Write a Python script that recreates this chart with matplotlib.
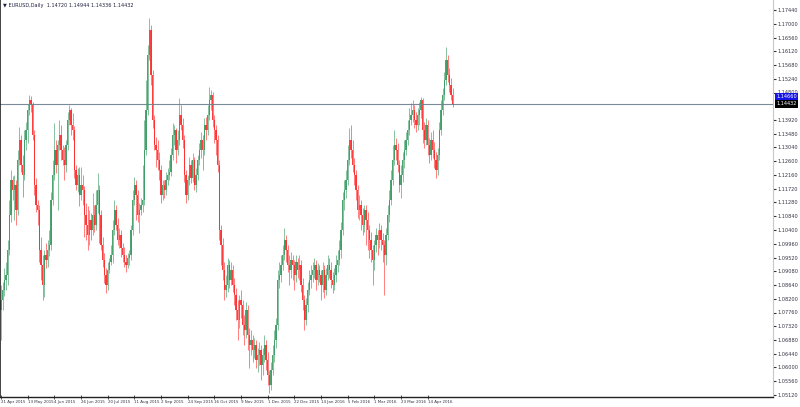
import matplotlib
matplotlib.use("Agg")
import matplotlib.pyplot as plt
import numpy as np

chart_title = "EURUSD,Daily  1.14720 1.14944 1.14336 1.14432"

opens = [
1.0784, 1.0816, 1.0848, 1.0880, 1.0896, 1.0976,
1.1088, 1.1200, 1.1168, 1.1184, 1.1104, 1.1264,
1.1328, 1.1248, 1.1216, 1.1328, 1.1360, 1.1424,
1.1456, 1.14432, 1.1344, 1.1184, 1.1120, 1.1104,
1.0976, 1.0928, 1.0864, 1.0960, 1.0944, 1.0976,
1.0992, 1.1136, 1.1216, 1.1296, 1.1248, 1.1312,
1.1344, 1.1296, 1.1264, 1.1248, 1.1312, 1.1392,
1.1424, 1.1376, 1.1360, 1.1232, 1.1184, 1.1216,
1.1152, 1.1184, 1.1168, 1.1088, 1.1056, 1.1024,
1.1072, 1.1040, 1.1088, 1.1056, 1.1120, 1.1168,
1.1088, 1.0992, 1.0944, 1.0896, 1.0864, 1.0912,
1.09376, 1.0960, 1.1040, 1.1104, 1.1056, 1.1008,
1.1024, 1.09824, 1.0960, 1.09376, 1.0928, 1.09504,
1.0960, 1.1040, 1.1136, 1.1184, 1.1152, 1.1088,
1.1104, 1.1120, 1.1136, 1.1296, 1.1424, 1.1600,
1.1680, 1.1536, 1.1392, 1.1312, 1.1296, 1.1264,
1.1232, 1.1152, 1.1184, 1.1168, 1.1200, 1.1216,
1.12256, 1.1280, 1.1344, 1.1360, 1.1296, 1.1328,
1.1408, 1.1376, 1.1328, 1.1216, 1.1152, 1.1200,
1.1248, 1.12064, 1.1264, 1.1184, 1.1216, 1.1264,
1.1296, 1.1328, 1.1296, 1.1376, 1.1360, 1.1408,
1.1456, 1.1472, 1.1392, 1.1360, 1.1328, 1.1248,
1.1040, 1.0992, 1.0912, 1.0848, 1.0864, 1.0928,
1.0880, 1.0912, 1.0864, 1.0832, 1.0784, 1.0752,
1.0816, 1.0800, 1.0736, 1.0720, 1.0784, 1.0704,
1.0672, 1.0688, 1.0656, 1.0672, 1.0624, 1.0640,
1.0656, 1.0608, 1.0640, 1.0672, 1.0624, 1.0576,
1.0544, 1.0592, 1.0640, 1.0688, 1.0736, 1.0880,
1.0896, 1.0928, 1.0960, 1.1008, 1.0976, 1.0928,
1.0912, 1.0944, 1.0928, 1.0896, 1.09376, 1.0912,
1.0928, 1.0864, 1.0816, 1.0752, 1.0800, 1.0848,
1.0880, 1.0896, 1.0912, 1.0928, 1.0880, 1.0912,
1.0896, 1.0864, 1.0912, 1.0848, 1.0896, 1.0928,
1.0912, 1.0880, 1.0864, 1.0896, 1.0928, 1.0944,
1.0976, 1.1040, 1.1136, 1.1168, 1.1200, 1.1264,
1.1328, 1.1296, 1.1248, 1.1216, 1.1168, 1.1104,
1.1120, 1.1088, 1.1056, 1.1104, 1.1072, 1.1040,
1.1008, 1.0976, 1.0944, 1.0992, 1.1024, 1.1008,
1.1040, 1.1008, 1.0992, 1.0960, 1.1024, 1.1088,
1.1136, 1.1200, 1.1264, 1.1312, 1.1296, 1.1248,
1.1184, 1.1216, 1.1264, 1.1296, 1.1328, 1.1360,
1.1392, 1.1408, 1.1424, 1.1392, 1.1376, 1.1408,
1.1424, 1.1456, 1.1360, 1.1328, 1.1376, 1.1312,
1.1280, 1.1328, 1.1296, 1.1264, 1.1232, 1.1280,
1.1360, 1.1424, 1.1472, 1.1520, 1.1584, 1.1536, 1.1504, 1.1472,
]

highs = [
1.0864, 1.08736, 1.09184, 1.09376, 1.1008, 1.1136,
1.1232, 1.12128, 1.1216, 1.1200, 1.1296, 1.13696,
1.1344, 1.1280, 1.1360, 1.13856, 1.14432, 1.1472,
1.14688, 1.14496, 1.1360, 1.12064, 1.1136, 1.1120,
1.10176, 1.0960, 1.0976, 1.09984, 1.1008, 1.1040,
1.11616, 1.1264, 1.13824, 1.1328, 1.1328, 1.1392,
1.1376, 1.1312, 1.13056, 1.1328, 1.14176, 1.1440,
1.14304, 1.14144, 1.13728, 1.1248, 1.12384, 1.12416,
1.12416, 1.1216, 1.11808, 1.11264, 1.11168, 1.1104,
1.10944, 1.11584, 1.1120, 1.1168, 1.12224, 1.1184,
1.1104, 1.10176, 1.09664, 1.09184, 1.09376, 1.09504,
1.0992, 1.1072, 1.1136, 1.1120, 1.10784, 1.10464,
1.1040, 1.09984, 1.09856, 1.0960, 1.09664, 1.0976,
1.1056, 1.1168, 1.12096, 1.1200, 1.1168, 1.11264,
1.11424, 1.1248, 1.1392, 1.1520, 1.1632, 1.17184,
1.1696, 1.1552, 1.1408, 1.13376, 1.1328, 1.12896,
1.1248, 1.1200, 1.1200, 1.12256, 1.12384, 1.1264,
1.13024, 1.13824, 1.1376, 1.13664, 1.1360, 1.14624,
1.1440, 1.13984, 1.1344, 1.1232, 1.1216, 1.12736,
1.1264, 1.12864, 1.12736, 1.12384, 1.1280, 1.13184,
1.13536, 1.1344, 1.13984, 1.14016, 1.1440, 1.14976,
1.1488, 1.14816, 1.1408, 1.1376, 1.1344, 1.1264,
1.1056, 1.10144, 1.09376, 1.0896, 1.09504, 1.0944,
1.09376, 1.0928, 1.08864, 1.08544, 1.0816, 1.0832,
1.0848, 1.0816, 1.0768, 1.08096, 1.0800, 1.07264,
1.0720, 1.0704, 1.06944, 1.0688, 1.06624, 1.06816,
1.0672, 1.06624, 1.0704, 1.0688, 1.06496, 1.0592,
1.06176, 1.0672, 1.0720, 1.07584, 1.0912, 1.09376,
1.0960, 1.0992, 1.10464, 1.1024, 1.0992, 1.0960,
1.09696, 1.0960, 1.0944, 1.0960, 1.09504, 1.0960,
1.0944, 1.08864, 1.0832, 1.08224, 1.08736, 1.0912,
1.0928, 1.09376, 1.09504, 1.0944, 1.09344, 1.0928,
1.0912, 1.09376, 1.0928, 1.09184, 1.0960, 1.09504,
1.09376, 1.09056, 1.09184, 1.0960, 1.0976, 1.1008,
1.10656, 1.11616, 1.1200, 1.1232, 1.1312, 1.13664,
1.1376, 1.1328, 1.12704, 1.1232, 1.1184, 1.1152,
1.1136, 1.11104, 1.1120, 1.1120, 1.10976, 1.1056,
1.10336, 1.0992, 1.1008, 1.10464, 1.1040, 1.10624,
1.1056, 1.10304, 1.1008, 1.10464, 1.1120, 1.1168,
1.1232, 1.1312, 1.1360, 1.13344, 1.13184, 1.1264,
1.1248, 1.12896, 1.1328, 1.13536, 1.1392, 1.14304,
1.14464, 1.1456, 1.1440, 1.14176, 1.14304, 1.14496,
1.14656, 1.14624, 1.13856, 1.13984, 1.1392, 1.13344,
1.13536, 1.1360, 1.13216, 1.12896, 1.13024, 1.13856,
1.1456, 1.14944, 1.15456, 1.16256, 1.1600, 1.15584, 1.15264, 1.14944,
]

lows = [
1.0688, 1.0784, 1.08288, 1.0848, 1.0864, 1.0960,
1.10656, 1.1136, 1.1072, 1.1056, 1.1088, 1.1248,
1.12256, 1.11456, 1.1200, 1.1296, 1.13184, 1.1408,
1.14176, 1.1328, 1.1152, 1.10976, 1.1056, 1.09376,
1.0880, 1.0816, 1.08256, 1.09184, 1.09216, 1.09568,
1.0976, 1.1120, 1.1200, 1.12224, 1.1104, 1.1296,
1.1264, 1.1248, 1.1200, 1.12256, 1.1296, 1.1376,
1.1344, 1.1328, 1.12064, 1.1168, 1.11616, 1.11168,
1.1136, 1.1120, 1.10176, 1.1008, 1.0976, 1.0992,
1.1008, 1.1024, 1.10336, 1.1040, 1.10944, 1.09984,
1.0976, 1.09216, 1.08704, 1.08384, 1.0848, 1.09024,
1.0928, 1.09344, 1.1024, 1.1040, 1.0992, 1.09824,
1.09536, 1.09376, 1.09216, 1.09056, 1.09184, 1.0928,
1.0944, 1.1024, 1.1120, 1.1072, 1.10656, 1.10304,
1.1088, 1.10976, 1.1120, 1.1280, 1.1408, 1.1584,
1.1504, 1.13664, 1.1296, 1.12416, 1.1232, 1.1200,
1.11264, 1.1136, 1.11424, 1.1152, 1.1184, 1.1200,
1.12128, 1.1264, 1.1312, 1.12544, 1.1280, 1.1312,
1.1360, 1.13024, 1.11936, 1.11264, 1.1136, 1.1184,
1.11904, 1.11936, 1.1168, 1.11616, 1.1200, 1.1248,
1.12704, 1.1232, 1.1280, 1.1328, 1.1344, 1.1392,
1.1424, 1.13696, 1.13184, 1.1280, 1.12256, 1.1008,
1.0928, 1.0880, 1.0816, 1.08256, 1.08416, 1.08544,
1.0864, 1.08416, 1.0800, 1.0752, 1.0688, 1.07264,
1.07584, 1.0704, 1.0672, 1.06944, 1.0656, 1.05984,
1.0640, 1.06176, 1.06304, 1.05984, 1.05856, 1.0608,
1.0560, 1.0576, 1.06176, 1.0592, 1.0544, 1.05184,
1.0528, 1.0576, 1.06176, 1.06624, 1.0720, 1.08544,
1.08736, 1.0912, 1.0944, 1.09376, 1.09056, 1.0864,
1.08864, 1.0880, 1.0848, 1.08736, 1.08864, 1.0880,
1.08416, 1.0784, 1.0720, 1.0736, 1.07776, 1.0832,
1.08544, 1.08736, 1.08864, 1.0848, 1.0864, 1.08736,
1.0816, 1.08416, 1.08224, 1.0832, 1.0880, 1.08864,
1.08544, 1.08384, 1.0848, 1.08736, 1.09056, 1.0928,
1.09504, 1.1024, 1.1104, 1.11424, 1.1184, 1.1248,
1.12704, 1.12256, 1.1184, 1.1136, 1.10784, 1.1072,
1.1040, 1.1024, 1.10336, 1.0992, 1.0976, 1.09504,
1.09376, 1.0864, 1.0912, 1.09696, 1.0960, 1.09824,
1.0976, 1.09376, 1.0832, 1.0928, 1.1008, 1.10656,
1.1120, 1.1184, 1.1248, 1.1264, 1.12256, 1.11616,
1.11424, 1.11936, 1.12384, 1.1280, 1.1312, 1.1344,
1.1376, 1.13856, 1.13664, 1.13536, 1.1360, 1.1376,
1.13984, 1.13184, 1.13024, 1.1312, 1.1280, 1.12544,
1.1264, 1.12704, 1.12384, 1.12064, 1.1216, 1.1264,
1.1344, 1.1408, 1.1456, 1.1504, 1.15136, 1.14816, 1.1456, 1.14336,
]

closes = [
1.0816, 1.0848, 1.0880, 1.0896, 1.0976, 1.1088,
1.1200, 1.1168, 1.1184, 1.1104, 1.1264, 1.1328,
1.1248, 1.1216, 1.1328, 1.1360, 1.1424, 1.1456,
1.14432, 1.1344, 1.1184, 1.1120, 1.1104, 1.0976,
1.0928, 1.0864, 1.0960, 1.0944, 1.0976, 1.0992,
1.1136, 1.1216, 1.1296, 1.1248, 1.1312, 1.1344,
1.1296, 1.1264, 1.1248, 1.1312, 1.1392, 1.1424,
1.1376, 1.1360, 1.1232, 1.1184, 1.1216, 1.1152,
1.1184, 1.1168, 1.1088, 1.1056, 1.1024, 1.1072,
1.1040, 1.1088, 1.1056, 1.1120, 1.1168, 1.1088,
1.0992, 1.0944, 1.0896, 1.0864, 1.0912, 1.09376,
1.0960, 1.1040, 1.1104, 1.1056, 1.1008, 1.1024,
1.09824, 1.0960, 1.09376, 1.0928, 1.09504, 1.0960,
1.1040, 1.1136, 1.1184, 1.1152, 1.1088, 1.1104,
1.1120, 1.1136, 1.1296, 1.1424, 1.1600, 1.1680,
1.1536, 1.1392, 1.1312, 1.1296, 1.1264, 1.1232,
1.1152, 1.1184, 1.1168, 1.1200, 1.1216, 1.12256,
1.1280, 1.1344, 1.1360, 1.1296, 1.1328, 1.1408,
1.1376, 1.1328, 1.1216, 1.1152, 1.1200, 1.1248,
1.12064, 1.1264, 1.1184, 1.1216, 1.1264, 1.1296,
1.1328, 1.1296, 1.1376, 1.1360, 1.1408, 1.1456,
1.1472, 1.1392, 1.1360, 1.1328, 1.1248, 1.1040,
1.0992, 1.0912, 1.0848, 1.0864, 1.0928, 1.0880,
1.0912, 1.0864, 1.0832, 1.0784, 1.0752, 1.0816,
1.0800, 1.0736, 1.0720, 1.0784, 1.0704, 1.0672,
1.0688, 1.0656, 1.0672, 1.0624, 1.0640, 1.0656,
1.0608, 1.0640, 1.0672, 1.0624, 1.0576, 1.0544,
1.0592, 1.0640, 1.0688, 1.0736, 1.0880, 1.0896,
1.0928, 1.0960, 1.1008, 1.0976, 1.0928, 1.0912,
1.0944, 1.0928, 1.0896, 1.09376, 1.0912, 1.0928,
1.0864, 1.0816, 1.0752, 1.0800, 1.0848, 1.0880,
1.0896, 1.0912, 1.0928, 1.0880, 1.0912, 1.0896,
1.0864, 1.0912, 1.0848, 1.0896, 1.0928, 1.0912,
1.0880, 1.0864, 1.0896, 1.0928, 1.0944, 1.0976,
1.1040, 1.1136, 1.1168, 1.1200, 1.1264, 1.1328,
1.1296, 1.1248, 1.1216, 1.1168, 1.1104, 1.1120,
1.1088, 1.1056, 1.1104, 1.1072, 1.1040, 1.1008,
1.0976, 1.0944, 1.0992, 1.1024, 1.1008, 1.1040,
1.1008, 1.0992, 1.0960, 1.1024, 1.1088, 1.1136,
1.1200, 1.1264, 1.1312, 1.1296, 1.1248, 1.1184,
1.1216, 1.1264, 1.1296, 1.1328, 1.1360, 1.1392,
1.1408, 1.1424, 1.1392, 1.1376, 1.1408, 1.1424,
1.1456, 1.1360, 1.1328, 1.1376, 1.1312, 1.1280,
1.1328, 1.1296, 1.1264, 1.1232, 1.1280, 1.1360,
1.1424, 1.1472, 1.1520, 1.1584, 1.1536, 1.1504, 1.1472, 1.14432,
]

date_labels = ["21 Apr 2015", "13 May 2015", "4 Jun 2015", "26 Jun 2015",
               "20 Jul 2015", "11 Aug 2015", "2 Sep 2015", "24 Sep 2015",
               "16 Oct 2015", "9 Nov 2015", "1 Dec 2015", "22 Dec 2015",
               "14 Jan 2016", "5 Feb 2016", "1 Mar 2016", "23 Mar 2016",
               "14 Apr 2016"]
date_label_bars = [0, 16, 32, 48, 64, 80, 96, 112, 128, 144, 160, 176,
                   192, 208, 224, 240, 256]

price_ticks = [1.17440, 1.17000, 1.16560, 1.16120, 1.15680, 1.15240, 1.14800,
               1.13920, 1.13480, 1.13040, 1.12600, 1.12160, 1.11720, 1.11280,
               1.10840, 1.10400, 1.09960, 1.09520, 1.09080, 1.08640, 1.08200,
               1.07760, 1.07320, 1.06880, 1.06440, 1.06000, 1.05560, 1.05120]

bid_price = 1.14432
marker_price = 1.14660

BULL = "#3a9a62"
BEAR = "#ff2a2a"

n = min(len(opens), len(highs), len(lows), len(closes))
o = np.array(opens[:n]); h = np.array(highs[:n])
l = np.array(lows[:n]); c = np.array(closes[:n])
x = np.arange(n)
up = c >= o
cols = np.where(up, BULL, BEAR)

W, H = 800, 407
fig = plt.figure(figsize=(W / 100, H / 100), dpi=100)
fig.patch.set_facecolor("white")
ax = fig.add_axes([0, 10 / H, 773 / W, 397 / H])
ax.set_facecolor("white")

ax.vlines(x, l, h, colors=cols, linewidth=0.5, alpha=0.85)
ax.bar(x, np.maximum(np.abs(c - o), 0.00004), bottom=np.minimum(o, c),
       width=0.7, color=cols, linewidth=0, alpha=0.9)

ax.axhline(bid_price, color="#7a8a99", linewidth=0.8, zorder=1)

ax.set_xlim(-0.6, 463.2)
ax.set_ylim(1.05056, 1.1776)

ax.yaxis.tick_right()
ax.set_yticks(price_ticks)
ax.set_yticklabels([f"{v:.5f}" for v in price_ticks])
ax.tick_params(axis="y", which="both", length=2, width=0.8, color="#333333",
               labelsize=3.6, labelcolor="#333344", pad=1.5)

ax.set_xticks(date_label_bars)
ax.set_xticklabels(date_labels, ha="left")
ax.tick_params(axis="x", length=3, width=0.6, color="#333333", direction="inout",
               labelsize=2.9, labelcolor="#333344", pad=0.8)

ax.spines["top"].set_visible(False)
ax.spines["left"].set_color("#222222")
ax.spines["left"].set_linewidth(1.2)
ax.spines["bottom"].set_color("#222222")
ax.spines["bottom"].set_linewidth(1.0)
ax.spines["right"].set_color("#c8c8c8")
ax.spines["right"].set_linewidth(0.8)

ax.text(1.004, marker_price, f"{marker_price:.5f}", transform=ax.get_yaxis_transform(),
        ha="left", va="center", fontsize=3.6, color="white",
        bbox=dict(boxstyle="square,pad=0.3", fc="#1414e6", ec="none"))
ax.text(1.004, bid_price, f"{bid_price:.5f}", transform=ax.get_yaxis_transform(),
        ha="left", va="center", fontsize=3.6, color="white",
        bbox=dict(boxstyle="square,pad=0.3", fc="#000000", ec="none"))

fig.text(3 / W, 1 - 5 / H, "\u25bc " + chart_title, ha="left", va="center",
         fontsize=3.6, color="#202040")

fig.savefig("out.png", dpi=100, facecolor="white")
